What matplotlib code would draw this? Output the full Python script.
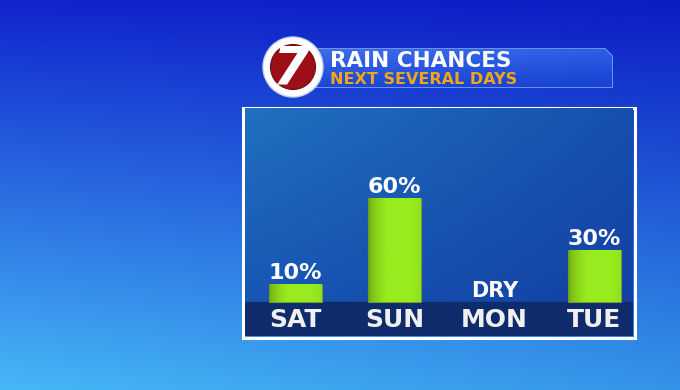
import numpy as np
import matplotlib
matplotlib.use("Agg")
import matplotlib.pyplot as plt
from matplotlib.patches import Circle, Rectangle, Polygon

days = ["SAT", "SUN", "MON", "TUE"]
chances = [10, 60, 0, 30]
labels = ["10%", "60%", "DRY", "30%"]
title = "RAIN CHANCES"
subtitle = "NEXT SEVERAL DAYS"


def gradient(h, w, tl, tr, bl, br):
    '''bilinear blend of four corner colours'''
    yy, xx = np.mgrid[0:1:h * 1j, 0:1:w * 1j]
    c = lambda k: (np.array(k) / 255.0)[None, None, :]
    top = c(tl) * (1 - xx[..., None]) + c(tr) * xx[..., None]
    bot = c(bl) * (1 - xx[..., None]) + c(br) * xx[..., None]
    return top * (1 - yy[..., None]) + bot * yy[..., None]


fig = plt.figure(figsize=(6.8, 3.9), dpi=100)

# background, pixel coordinates
bg = fig.add_axes([0, 0, 1, 1])
bg.set_xlim(0, 680)
bg.set_ylim(390, 0)
bg.axis("off")
bg.imshow(gradient(390, 680, (16, 36, 205), (12, 28, 195), (70, 184, 247), (52, 148, 232)),
          extent=[0, 680, 390, 0], aspect="auto", zorder=0)

# header banner
banner = Polygon([[312, 49], [605, 49], [612, 56], [612, 87], [312, 87]], closed=True,
                 facecolor="#1c4bd8", edgecolor="#7fa6f5", linewidth=1.2, zorder=2)
bg.add_patch(banner)
bg.imshow(gradient(20, 50, (60, 110, 235), (45, 95, 230), (28, 72, 215), (25, 65, 210)),
          extent=[312, 612, 87, 49], aspect="auto", zorder=2, clip_path=banner)

# logo
bg.add_patch(Circle((293, 67), 30, facecolor="white", edgecolor="#c8d4ee", linewidth=1, zorder=3))
bg.add_patch(Circle((293, 67), 22.5, facecolor="#9c0f16", edgecolor="#700a0e", linewidth=0.8, zorder=4))
bg.text(291, 69, "7", color="white", fontsize=38, fontweight="heavy", fontstyle="italic",
        ha="center", va="center", zorder=5)

bg.text(330, 67, title, color="white", fontsize=15.5, fontweight="bold",
        ha="left", va="baseline", zorder=5)
bg.text(330, 84, subtitle, color="#f2a516", fontsize=11.5, fontweight="bold",
        ha="left", va="baseline", zorder=5)

# white frame round the chart panel
bg.add_patch(Rectangle((243, 108), 392, 230, facecolor="none", edgecolor="white",
                       linewidth=2.2, zorder=3))

# chart panel
ax = fig.add_axes([245 / 680, 54 / 390, 388 / 680, 228 / 390])
ax.set_xlim(-0.503, 3.39)
ax.set_ylim(-19.6, 112)
ax.imshow(gradient(50, 80, (33, 112, 192), (22, 80, 175), (22, 82, 178), (18, 62, 162)),
          extent=[-0.503, 3.39, -19.6, 112], aspect="auto", zorder=0)
ax.axhspan(-19.6, 0, color="#0f2b6c", zorder=1)
ax.axis("off")

x = np.arange(len(days))
bars = ax.bar(x, chances, width=0.53, color="#8fe51c", edgecolor="#6f9a35",
              linewidth=[0.8 if v else 0 for v in chances], zorder=2)
shade = np.linspace(0, 1, 60)
shade = np.sqrt(np.clip(np.minimum(shade / 0.35, 1.0) * (1 - 0.25 * np.maximum(shade - 0.8, 0) / 0.2), 0, 1))[None, :]
green = matplotlib.colors.LinearSegmentedColormap.from_list("g", ["#6a9e14", "#97ec1e"])
for b, v in zip(bars, chances):
    if v <= 0:
        continue
    ax.imshow(shade, cmap=green, vmin=0, vmax=1, interpolation="bilinear",
              extent=[b.get_x(), b.get_x() + b.get_width(), 0, v], aspect="auto",
              zorder=3, clip_path=b)

for xi, v, lab in zip(x, chances, labels):
    ax.annotate(lab, (xi, v), xytext=(0, 1), textcoords="offset points",
                ha="center", va="bottom", color="white", fontsize=16 if v else 15,
                fontweight="bold", zorder=4)

for xi, d in zip(x, days):
    ax.text(xi, -10.4, d, ha="center", va="center", color="#f0f0f0", fontsize=18,
            fontweight="bold", zorder=4)

fig.savefig("out.png", dpi=100)
